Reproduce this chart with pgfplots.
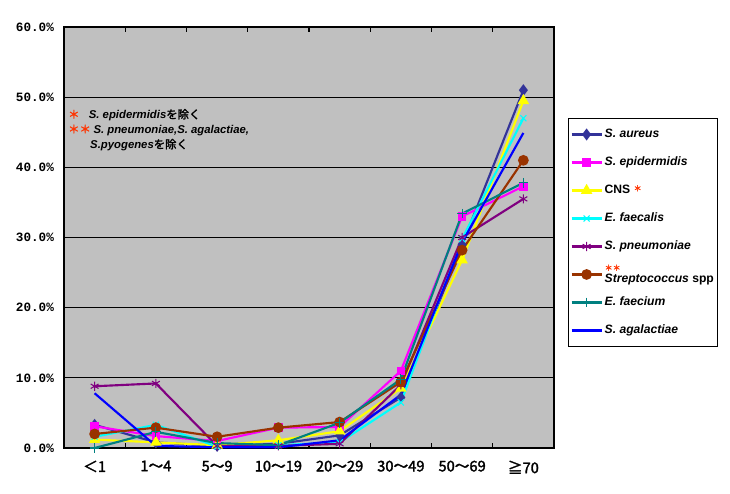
\documentclass[border=0pt]{standalone}
\usepackage{fontspec}
\setmainfont{Liberation Sans}
\newfontfamily\jp[AutoFakeBold=2]{Noto Sans CJK JP}
\newfontfamily\mono{Liberation Mono}
\usepackage{pgfplots}
\pgfplotsset{compat=1.18}
\definecolor{excelgray}{RGB}{192,192,192}
\definecolor{caureus}{RGB}{51,51,153}
\definecolor{cepi}{RGB}{255,0,255}
\definecolor{ccns}{RGB}{255,255,0}
\definecolor{cfaecalis}{RGB}{0,255,255}
\definecolor{cpneu}{RGB}{128,0,128}
\definecolor{cstrep}{RGB}{153,51,0}
\definecolor{cfaecium}{RGB}{0,128,128}
\definecolor{cagal}{RGB}{0,0,255}
\definecolor{astred}{RGB}{255,51,0}
\begin{document}
\begin{tikzpicture}
\path[use as bounding box] (0pt,0pt) rectangle (547.5pt,369.75pt);
\begin{axis}[
  scale only axis, width=367.5pt, height=315.75pt,
  at={(48pt,33.75pt)}, anchor=south west,
  xmin=-0.5, xmax=7.5, ymin=0, ymax=60,
  axis background/.style={fill=excelgray},
  axis line style={black, line width=0.8pt},
  xtick={0,...,7},
  xticklabels={＜1,1～4,5～9,10～19,20～29,30～49,50～69,≧70},
  xticklabel style={font=\jp\bfseries\fontsize{11}{13}\selectfont, yshift=-6pt},
  major x tick style={draw=none},
  minor xtick={0.5,1.5,...,6.5},
  minor x tick style={black, line width=0.8pt},
  minor tick length=4pt,
  tick align=inside,
  ytick={0,10,...,60},
  major y tick style={draw=none},
  yticklabel={\pgfmathprintnumber[fixed,fixed zerofill,precision=1]{\tick}\%},
  yticklabel style={font=\mono\bfseries\fontsize{9.5}{11}\selectfont, xshift=-4pt},
  /pgf/number format/assume math mode=true,
  ymajorgrids, grid style={black, line width=0.8pt},
  every axis plot/.append style={line width=1.6pt},
  legend image code/.code={\draw[mark repeat=2,mark phase=2] plot coordinates {(0pt,0pt)(11.25pt,0pt)(22.5pt,0pt)};},
  legend style={at={(1.0286,0.784)}, anchor=north west, draw=black, line width=0.8pt, fill=white,
    font=\bfseries\fontsize{9.1}{11}\selectfont, row sep=0pt, inner sep=1.5pt,
    nodes={minimum height=21pt, inner sep=1.5pt}},
  legend cell align=left,
]
\addplot[color=caureus, mark=diamond*, mark size=3.2pt, mark options={solid, fill=caureus}]
  coordinates {(0,3.3)(1,0.8)(2,0.3)(3,0.6)(4,1.8)(5,7.2)(6,29.0)(7,51.0)};
\addlegendentry{\textit{S. aureus}}
\addplot[color=cepi, mark=square*, mark size=2.4pt, mark options={solid, fill=cepi}]
  coordinates {(0,3.1)(1,1.7)(2,1.0)(3,2.9)(4,3.0)(5,11.0)(6,33.0)(7,37.3)};
\addlegendentry{\textit{S. epidermidis}}
\addplot[color=ccns, mark=triangle*, mark size=3.4pt, mark options={solid, fill=ccns}]
  coordinates {(0,1.2)(1,0.8)(2,0.4)(3,1.1)(4,2.4)(5,8.5)(6,26.8)(7,49.5)};
\addlegendentry{CNS \textcolor{astred}{\raisebox{0.4ex}{\jp\fontsize{6}{6}\selectfont ＊}}}
\addplot[color=cfaecalis, mark=x, mark size=3.2pt, mark options={solid, line width=0.8pt}]
  coordinates {(0,1.6)(1,3.3)(2,0.2)(3,0.4)(4,0.8)(5,6.5)(6,29.8)(7,47.0)};
\addlegendentry{\textit{E. faecalis}}
\addplot[color=cpneu, mark=asterisk, mark size=3.4pt, mark options={solid, line width=0.8pt}]
  coordinates {(0,8.8)(1,9.2)(2,0.3)(3,0.3)(4,0.6)(5,9.0)(6,30.0)(7,35.5)};
\addlegendentry{\textit{S. pneumoniae}}
\addplot[color=cstrep, mark=*, mark size=3.2pt, mark options={solid, fill=cstrep}]
  coordinates {(0,2.0)(1,2.9)(2,1.6)(3,2.9)(4,3.7)(5,9.4)(6,28.2)(7,41.0)};
\addlegendentry{\rlap{\raisebox{1.8ex}{\textcolor{astred}{\jp\fontsize{6}{6}\selectfont ＊＊}}}\textit{Streptococcus} spp}
\addplot[color=cfaecium, mark=+, mark size=3.6pt, mark options={solid, line width=0.8pt}]
  coordinates {(0,0.0)(1,2.3)(2,0.7)(3,0.4)(4,3.6)(5,9.8)(6,33.4)(7,37.8)};
\addlegendentry{\textit{E. faecium}}
\addplot[color=cagal, no markers]
  coordinates {(0,7.8)(1,0.3)(2,0.1)(3,0.1)(4,1.1)(5,7.6)(6,29.3)(7,44.9)};
\addlegendentry{\textit{S. agalactiae}}
\node[anchor=west, font=\bfseries\fontsize{8.5}{10}\selectfont, inner sep=0pt] at (rel axis cs:0.008,0.791)
  {\textcolor{astred}{\jp ＊}\hspace{7pt}\textit{S. epidermidis}{\jp を除く}};
\node[anchor=west, font=\bfseries\fontsize{8.5}{10}\selectfont, inner sep=0pt] at (rel axis cs:0.008,0.755)
  {\textcolor{astred}{\jp ＊＊}\hspace{2pt}\textit{S. pneumoniae,S. agalactiae,}};
\node[anchor=west, font=\bfseries\fontsize{8.5}{10}\selectfont, inner sep=0pt] at (rel axis cs:0.053,0.72)
  {\textit{S.pyogenes}{\jp を除く}};
\end{axis}
\end{tikzpicture}
\end{document}
